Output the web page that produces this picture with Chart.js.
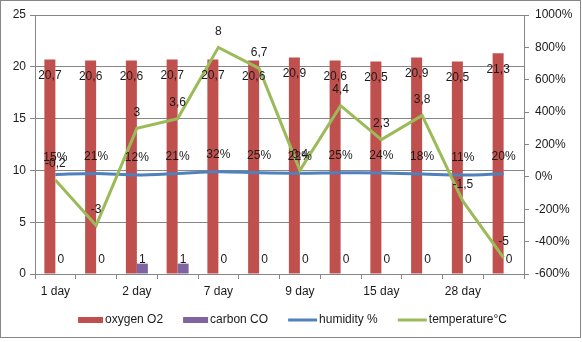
<!DOCTYPE html>
<html><head><meta charset="utf-8">
<script src="https://cdn.jsdelivr.net/npm/chart.js@4/dist/chart.umd.min.js"></script>
<style>html,body{margin:0;padding:0;background:#fff}canvas{display:block}</style>
</head><body>
<canvas id="c" width="582" height="342"></canvas>
<script>
// ---- data ----
const categories = ["1 day", "", "2 day", "", "7 day", "", "9 day", "", "15 day", "", "28 day", ""];
const oxygenO2 = [20.7, 20.6, 20.6, 20.7, 20.7, 20.6, 20.9, 20.6, 20.5, 20.9, 20.5, 21.3];
const carbonCO = [0, 0, 1, 1, 0, 0, 0, 0, 0, 0, 0, 0];
const humidityPct = [15, 21, 12, 21, 32, 25, 22, 25, 24, 18, 11, 20];
const temperatureC = [-0.2, -3, 3, 3.6, 8, 6.7, 0.4, 4.4, 2.3, 3.8, -1.5, -5];
const leftAxis = { min: 0, max: 25, step: 5 };
const rightAxis = { min: -6, max: 10, step: 2 }; // shown as -600% .. 1000%

// ---- styling ----
const GRAY = '#868686';
const TXT = '#1a1a1a';
const FONT = '"Liberation Sans", Arial, sans-serif';
const fmt = v => String(v).replace('.', ',');

Chart.defaults.font.family = FONT;
Chart.defaults.font.size = 12;
Chart.defaults.color = TXT;

const bgBorder = {
  id: 'bgBorder',
  beforeDraw(chart) {
    const c = chart.ctx;
    c.save();
    c.fillStyle = '#fff';
    c.fillRect(0, 0, chart.width, chart.height);
    c.strokeStyle = GRAY;
    c.lineWidth = 1;
    c.strokeRect(0.5, 0.5, 580, 337);
    c.restore();
  }
};

const valueLabels = {
  id: 'valueLabels',
  afterDatasetsDraw(chart) {
    const c = chart.ctx;
    c.save();
    c.font = '12px ' + FONT;
    c.fillStyle = TXT;
    c.textAlign = 'center';
    c.textBaseline = 'middle';
    chart.data.datasets.forEach((ds, di) => {
      const meta = chart.getDatasetMeta(di);
      meta.data.forEach((el, i) => {
        const v = ds.data[i];
        let txt, y;
        if (ds.labelKind === 'barInside') { txt = fmt(v); y = el.y + 16; }
        else if (ds.labelKind === 'barOutside') { txt = fmt(v); y = Math.min(el.y, el.base - 10) - 4; }
        else if (ds.labelKind === 'pct') { txt = Math.round(v * 100) + '%'; y = el.y - 17; }
        else { txt = fmt(v); y = el.y - 16; }
        c.fillText(txt, el.x, y);
      });
    });
    c.restore();
  }
};

const customLegend = {
  id: 'customLegend',
  afterDraw(chart) {
    const c = chart.ctx;
    c.save();
    c.font = '12px ' + FONT;
    c.textBaseline = 'middle';
    c.textAlign = 'left';
    const items = chart.data.datasets.map(ds => ({ text: ds.label, color: ds.borderColor, kind: ds.type === 'line' ? 'line' : 'box' }));
    const sw = it => it.kind === 'line' ? 29 : 25;
    const gapTxt = 2, gapItem = 20;
    let total = 0;
    items.forEach((it, i) => { it.w = sw(it) + gapTxt + c.measureText(it.text).width; total += it.w + (i ? gapItem : 0); });
    let x = 292.5 - total / 2;
    const y = 320;
    items.forEach(it => {
      c.fillStyle = it.color;
      if (it.kind === 'line') c.fillRect(x, y - 1.5, sw(it), 3);
      else c.fillRect(x, y - 3, sw(it), 6);
      c.fillStyle = TXT;
      c.fillText(it.text, x + sw(it) + gapTxt, y);
      x += it.w + gapItem;
    });
    c.restore();
  }
};

new Chart(document.getElementById('c'), {
  type: 'bar',
  data: {
    labels: categories,
    datasets: [
      { label: 'oxygen O2', data: oxygenO2, yAxisID: 'y', backgroundColor: '#C0504D', borderColor: '#C0504D', borderWidth: 0,
        categoryPercentage: 0.54, barPercentage: 1, order: 3, labelKind: 'barInside' },
      { label: 'carbon CO', data: carbonCO, yAxisID: 'y', backgroundColor: '#8064A2', borderColor: '#8064A2', borderWidth: 0,
        categoryPercentage: 0.54, barPercentage: 1, order: 4, labelKind: 'barOutside' },
      { type: 'line', label: 'humidity %', data: humidityPct.map(v => v / 100), yAxisID: 'y1', borderColor: '#4F81BD', backgroundColor: '#4F81BD',
        borderWidth: 3, pointRadius: 0, tension: 0.3, fill: false, order: 2, labelKind: 'pct' },
      { type: 'line', label: 'temperature°C', data: temperatureC, yAxisID: 'y1', borderColor: '#9BBB59', backgroundColor: '#9BBB59',
        borderWidth: 3, pointRadius: 0, tension: 0, fill: false, order: 1, labelKind: 'num' }
    ]
  },
  options: {
    responsive: false,
    devicePixelRatio: 1,
    animation: false,
    events: [],
    layout: { padding: { top: 15, left: 0, right: 0, bottom: 0 } },
    plugins: { legend: { display: false }, tooltip: { enabled: false }, title: { display: false } },
    scales: {
      x: {
        offset: true,
        grid: { offset: true, drawOnChartArea: false, drawTicks: true, tickLength: 5, color: GRAY },
        border: { color: GRAY },
        ticks: { autoSkip: false, maxRotation: 0, padding: 5, color: TXT },
        afterFit(s) { s.height = 68; }
      },
      y: {
        position: 'left', min: leftAxis.min, max: leftAxis.max,
        ticks: { stepSize: leftAxis.step, padding: 4, color: TXT },
        grid: { color: GRAY, tickLength: 5 },
        border: { color: GRAY },
        afterFit(s) { s.width = 35; }
      },
      y1: {
        position: 'right', min: rightAxis.min, max: rightAxis.max,
        ticks: { stepSize: rightAxis.step, padding: 6, color: TXT, callback: v => Math.round(v * 100) + '%' },
        grid: { drawOnChartArea: false, tickLength: 5, color: GRAY },
        border: { color: GRAY },
        afterFit(s) { s.width = 58; }
      }
    }
  },
  plugins: [bgBorder, valueLabels, customLegend]
});
</script>
</body></html>
